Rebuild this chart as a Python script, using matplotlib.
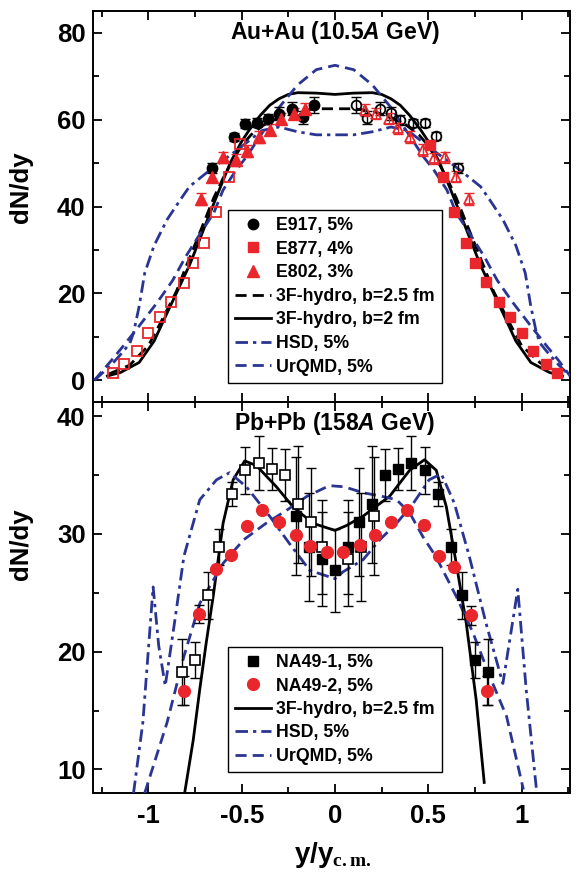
import matplotlib
matplotlib.use("Agg")
import matplotlib.pyplot as plt
from matplotlib.ticker import MultipleLocator

plt.rcParams['font.family'] = ['Liberation Sans', 'DejaVu Sans']
plt.rcParams['font.weight'] = 'bold'
plt.rcParams['mathtext.fontset'] = 'custom'
plt.rcParams['mathtext.it'] = 'Liberation Sans:bold:italic'
plt.rcParams['mathtext.rm'] = 'Liberation Serif:bold'
plt.rcParams['mathtext.bf'] = 'Liberation Sans:bold'

RED = '#e8262b'
BLUE = '#2a3593'

# ---------------- Au+Au (10.5A GeV) ----------------
e917_x = [-0.66, -0.54, -0.48, -0.42, -0.36, -0.30, -0.23, -0.17, -0.11]
e917_y = [48.8, 56.0, 59.1, 59.3, 60.2, 61.4, 62.5, 60.5, 63.3]
e917_err = [1.2, 1.0, 1.0, 1.0, 1.2, 1.5, 1.5, 1.5, 1.8]
e917r_x = [0.11, 0.17, 0.24, 0.30, 0.35, 0.42, 0.48, 0.54, 0.66]
e917r_y = [63.3, 60.4, 62.5, 61.5, 59.9, 59.2, 59.2, 56.2, 48.9]
e917r_err = [1.8, 1.5, 1.5, 1.5, 1.2, 1.0, 1.0, 1.0, 1.2]

e877_x = [0.51, 0.58, 0.64, 0.70, 0.75, 0.81, 0.88, 0.94, 1.00, 1.06, 1.13, 1.19]
e877_y = [54.2, 46.9, 38.8, 31.7, 27.0, 22.6, 18.0, 14.5, 10.8, 6.7, 3.7, 1.6]
e877l_x = [-1.19, -1.13, -1.06, -1.00, -0.94, -0.88, -0.81, -0.76, -0.70, -0.64, -0.57, -0.51]
e877l_y = [1.6, 3.7, 6.7, 10.8, 14.5, 18.0, 22.5, 27.0, 31.7, 38.8, 46.8, 54.3]

e802_x = [-0.72, -0.66, -0.60, -0.53, -0.47, -0.41, -0.35, -0.29, -0.22, -0.16]
e802_y = [41.7, 46.9, 51.3, 50.7, 52.8, 56.0, 57.7, 60.2, 61.4, 62.5]
e802r_x = [0.16, 0.22, 0.29, 0.34, 0.40, 0.47, 0.53, 0.59, 0.65, 0.72]
e802r_y = [62.2, 61.4, 60.2, 58.0, 56.0, 53.0, 51.1, 51.3, 46.9, 41.7]
e802_err = 1.3

hyd25a_x = [-1.21, -1.1, -1.0, -0.92, -0.85, -0.8, -0.72, -0.65, -0.6, -0.55, -0.5, -0.45,
            -0.38, -0.3, -0.2, -0.1, 0.0, 0.1, 0.2, 0.3, 0.38, 0.45, 0.5, 0.55, 0.6, 0.65,
            0.72, 0.8, 0.85, 0.92, 1.0, 1.1, 1.21]
hyd25a_y = [1.5, 3.5, 8.0, 14.5, 20.5, 26.0, 34.5, 42.0, 46.5, 50.5, 54.0, 56.5,
            58.8, 60.5, 62.0, 62.5, 62.5, 62.5, 62.0, 60.5, 58.8, 56.5, 54.0, 50.5, 46.5, 42.0,
            34.5, 26.0, 20.5, 14.5, 8.0, 4.0, 1.5]

hyd2a_x = [-1.22, -1.15, -1.05, -0.97, -0.9, -0.84, -0.78, -0.72, -0.67, -0.6, -0.56, -0.5,
           -0.46, -0.4, -0.35, -0.3, -0.25, -0.2, -0.1, 0.0, 0.1, 0.2, 0.25, 0.3, 0.35, 0.4,
           0.46, 0.5, 0.56, 0.6, 0.67, 0.72, 0.78, 0.84, 0.9, 0.97, 1.05, 1.15, 1.22]
hyd2a_y = [1.0, 1.8, 4.1, 9.0, 15.5, 21.0, 26.5, 33.0, 38.5, 46.0, 50.2, 55.0,
           57.6, 61.0, 63.3, 64.8, 65.8, 66.2, 66.1, 65.8, 66.1, 66.2, 65.8, 64.8, 63.3, 61.0,
           57.6, 55.0, 50.2, 46.0, 38.5, 33.0, 26.5, 21.0, 15.5, 9.0, 4.1, 1.8, 1.0]

hsda_x = [-1.29, -1.2, -1.14, -1.1, -1.08, -1.05, -1.02, -0.97, -0.9, -0.83, -0.78, -0.67,
          -0.55, -0.45, -0.39, -0.3, -0.2, -0.1, 0.0, 0.1, 0.2, 0.3, 0.39, 0.45, 0.55, 0.67,
          0.78, 0.83, 0.9, 0.97, 1.02, 1.05, 1.08, 1.1, 1.14, 1.2, 1.26]
hsda_y = [0.0, 3.5, 6.4, 8.5, 10.9, 17.0, 24.7, 31.0, 37.0, 41.5, 44.6, 48.4,
          52.2, 55.5, 57.5, 58.3, 57.2, 56.5, 56.5, 56.5, 57.2, 58.3, 57.5, 55.5, 52.2, 48.4,
          44.6, 41.5, 37.0, 31.0, 24.7, 17.0, 10.9, 8.5, 6.4, 3.5, 1.0]

urqa_x = [-1.29, -1.2, -1.135, -1.05, -0.955, -0.87, -0.8, -0.71, -0.65, -0.6, -0.53, -0.475,
          -0.42, -0.3, -0.2, -0.1, 0.0, 0.1, 0.2, 0.3, 0.42, 0.475, 0.53, 0.6, 0.65, 0.71,
          0.8, 0.87, 0.955, 1.05, 1.135, 1.2, 1.26]
urqa_y = [0.0, 4.5, 7.9, 12.5, 17.8, 23.0, 28.5, 34.6, 38.5, 43.8, 48.4, 51.4,
          55.0, 62.8, 68.0, 71.5, 72.5, 71.5, 68.0, 62.8, 55.0, 51.4, 48.4, 43.8, 38.5, 34.6,
          28.5, 23.0, 17.8, 12.5, 7.9, 4.5, 1.0]

# ---------------- Pb+Pb (158A GeV) ----------------
na1_x = [-0.21, -0.14, -0.07, 0.0, 0.07, 0.13, 0.20, 0.27, 0.34, 0.41, 0.48, 0.55, 0.62, 0.68, 0.75, 0.82]
na1_y = [31.5, 28.9, 27.9, 26.9, 28.9, 31.0, 32.5, 35.0, 35.5, 36.0, 35.4, 33.4, 28.9, 24.8, 19.3, 18.3]
na1_err = [5.0, 4.6, 4.0, 3.5, 4.0, 4.6, 5.0, 2.2, 1.8, 2.3, 2.0, 1.0, 1.5, 2.0, 1.5, 2.8]
na1o_x = [-0.82, -0.75, -0.68, -0.62, -0.55, -0.48, -0.41, -0.34, -0.27, -0.20, -0.13, -0.07, 0.07, 0.14, 0.21]
na1o_y = [18.3, 19.3, 24.8, 28.9, 33.4, 35.4, 36.0, 35.5, 35.0, 32.5, 31.0, 28.9, 27.9, 28.9, 31.5]
na1o_err = [2.8, 1.5, 2.0, 1.5, 1.0, 2.0, 2.3, 1.8, 2.2, 5.0, 4.6, 4.0, 4.0, 4.6, 5.0]

na2_x = [-0.81, -0.73, -0.64, -0.555, -0.47, -0.39, -0.30, -0.21, -0.135, -0.045,
         0.045, 0.135, 0.215, 0.30, 0.385, 0.475, 0.555, 0.64, 0.73, 0.815]
na2_y = [16.7, 23.2, 27.0, 28.2, 30.7, 32.0, 31.0, 29.9, 29.0, 28.5,
         28.5, 29.1, 29.9, 31.0, 32.0, 30.8, 28.1, 27.2, 23.1, 16.7]
na2_err = [1.2, 0.8, 0, 0, 0, 0, 0, 0, 0, 0, 0, 0, 0, 0, 0, 0, 0, 0, 0.8, 1.2]

hydb_x = [-0.806, -0.76, -0.725, -0.69, -0.653, -0.6, -0.546, -0.484, -0.421, -0.314, -0.225,
          -0.118, 0.0, 0.06, 0.15, 0.293, 0.4, 0.48, 0.543, 0.597, 0.65, 0.704, 0.757, 0.8]
hydb_y = [8.0, 12.5, 16.8, 20.8, 24.7, 30.9, 34.6, 36.2, 35.8, 34.0, 32.3,
          30.9, 30.3, 30.7, 31.5, 33.2, 35.4, 36.3, 35.4, 32.3, 27.5, 22.4, 15.9, 8.9]

hsdb_x = [-1.08, -1.03, -0.975, -0.945, -0.91, -0.86, -0.81, -0.725, -0.635, -0.565, -0.475,
          -0.35, -0.245, -0.135, 0.0, 0.045, 0.15, 0.24, 0.33, 0.42, 0.505, 0.57, 0.64, 0.72,
          0.81, 0.9, 0.98, 1.025, 1.08]
hsdb_y = [8.0, 14.0, 25.5, 20.5, 17.1, 22.5, 28.1, 32.9, 34.6, 35.2, 34.0,
          31.5, 29.2, 26.9, 26.2, 26.8, 27.8, 29.5, 30.9, 32.6, 34.6, 35.1, 32.6, 28.1,
          22.4, 17.3, 25.3, 16.8, 8.3]

urqb_x = [-1.02, -0.9, -0.81, -0.725, -0.6, -0.49, -0.37, -0.26, -0.15, -0.03, 0.05, 0.15,
          0.25, 0.33, 0.4, 0.47, 0.54, 0.65, 0.74, 0.83, 0.92, 1.01]
urqb_y = [8.0, 14.0, 19.6, 24.1, 27.5, 29.5, 30.9, 32.0, 33.2, 34.1, 34.0, 33.5,
          33.2, 32.9, 31.8, 29.8, 28.1, 24.7, 21.6, 17.9, 14.5, 8.3]

fig = plt.figure(figsize=(5.76, 8.73), dpi=100)
ax1 = fig.add_axes([0.1606, 0.5395, 0.8290, 0.4479])
ax2 = fig.add_axes([0.1606, 0.0916, 0.8290, 0.4479])

LW = 2.0
DASH = (0, (4.0, 2.2))
DASHDOT = (0, (4.5, 1.8, 1.2, 1.8))
XMIN, XMAX = -1.3, 1.26
XC = (0 - XMIN) / (XMAX - XMIN)

def style_axes(ax, ylim, ymaj, ymin_):
    ax.set_xlim(XMIN, XMAX)
    ax.set_ylim(*ylim)
    ax.xaxis.set_major_locator(MultipleLocator(0.5))
    ax.xaxis.set_minor_locator(MultipleLocator(0.25))
    ax.yaxis.set_major_locator(MultipleLocator(ymaj))
    ax.yaxis.set_minor_locator(MultipleLocator(ymin_))
    ax.tick_params(which='both', direction='in', top=True, right=True, width=1.3)
    ax.tick_params(which='major', length=6.5)
    ax.tick_params(which='minor', length=4)
    ax.tick_params(axis='y', labelsize=18.5, pad=5)
    ax.tick_params(axis='x', labelsize=18.5, pad=8)
    for s in ax.spines.values():
        s.set_linewidth(1.4)
    for lab in ax.get_xticklabels() + ax.get_yticklabels():
        lab.set_fontweight('bold')

LEGPROP = {'weight': 'bold', 'size': 12.8}

# ---- top panel ----
ax = ax1
ax.plot(hyd25a_x, hyd25a_y, color='black', lw=LW, ls=DASH, label='3F-hydro, b=2.5 fm', zorder=3)
ax.plot(hyd2a_x, hyd2a_y, color='black', lw=LW, ls='-', label='3F-hydro, b=2 fm', zorder=3)
ax.plot(hsda_x, hsda_y, color=BLUE, lw=LW, ls=DASHDOT, label='HSD, 5%', zorder=3)
ax.plot(urqa_x, urqa_y, color=BLUE, lw=LW, ls=DASH, label='UrQMD, 5%', zorder=3)

ax.errorbar(e917_x, e917_y, yerr=e917_err, fmt='none', ecolor='black', elinewidth=1.0, capsize=3.5, capthick=1.0, zorder=4)
ax.errorbar(e917r_x, e917r_y, yerr=e917r_err, fmt='none', ecolor='black', elinewidth=1.0, capsize=3.5, capthick=1.0, zorder=4)
ax.errorbar(e802_x, e802_y, yerr=e802_err, fmt='none', ecolor=RED, elinewidth=1.0, capsize=3.5, capthick=1.0, zorder=4)
ax.errorbar(e802r_x, e802r_y, yerr=e802_err, fmt='none', ecolor=RED, elinewidth=1.0, capsize=3.5, capthick=1.0, zorder=4)

ax.plot(e917_x, e917_y, 'o', color='black', ms=7.5, ls='none', label='E917, 5%', zorder=5)
ax.plot(e917r_x, e917r_y, 'o', mfc='none', mec='black', mew=1.3, ms=7, ls='none', zorder=5)
ax.plot(e877_x, e877_y, 's', color=RED, ms=7.5, ls='none', label='E877, 4%', zorder=5)
ax.plot(e877l_x, e877l_y, 's', mfc='none', mec=RED, mew=1.3, ms=7.5, ls='none', zorder=5)
ax.plot(e802_x, e802_y, '^', color=RED, ms=8.5, ls='none', label='E802, 3%', zorder=5)
ax.plot(e802r_x, e802r_y, '^', mfc='none', mec=RED, mew=1.3, ms=7.5, ls='none', zorder=5)

style_axes(ax, (-5, 85), 20, 10)
ax.tick_params(axis='x', labelbottom=False)
ax.text(XC, 0.945, r'Au+Au (10.5$\mathit{A}$ GeV)', transform=ax.transAxes,
        ha='center', va='center', fontsize=16.5, fontweight='bold')
ax.set_ylabel('dN/dy', fontsize=18.5, fontweight='bold')
ax.yaxis.set_label_coords(-0.125, 0.55)

handles, labels = ax.get_legend_handles_labels()
order = ['E917, 5%', 'E877, 4%', 'E802, 3%', '3F-hydro, b=2.5 fm', '3F-hydro, b=2 fm', 'HSD, 5%', 'UrQMD, 5%']
hmap = dict(zip(labels, handles))
leg = ax.legend([hmap[k] for k in order], order, loc='upper left', bbox_to_anchor=(0.284, 0.491),
                borderaxespad=0, frameon=True, fancybox=False, edgecolor='black', framealpha=1,
                prop=LEGPROP, handlelength=2.0, handletextpad=0.3,
                labelspacing=0.37, borderpad=0.4)
leg.get_frame().set_linewidth(1.0)

# ---- bottom panel ----
ax = ax2
ax.plot(hydb_x, hydb_y, color='black', lw=LW, ls='-', label='3F-hydro, b=2.5 fm', zorder=3)
ax.plot(hsdb_x, hsdb_y, color=BLUE, lw=LW, ls=DASHDOT, label='HSD, 5%', zorder=3)
ax.plot(urqb_x, urqb_y, color=BLUE, lw=LW, ls=DASH, label='UrQMD, 5%', zorder=3)

ax.errorbar(na1_x, na1_y, yerr=na1_err, fmt='none', ecolor='black', elinewidth=1.0, capsize=3.5, capthick=1.0, zorder=4)
ax.errorbar(na1o_x, na1o_y, yerr=na1o_err, fmt='none', ecolor='black', elinewidth=1.0, capsize=3.5, capthick=1.0, zorder=4)
ax.errorbar(na2_x, na2_y, yerr=na2_err, fmt='none', ecolor='black', elinewidth=1.0, capsize=3.5, capthick=1.0, zorder=4)

ax.plot(na1_x, na1_y, 's', color='black', ms=7.5, ls='none', label='NA49-1, 5%', zorder=5)
ax.plot(na1o_x, na1o_y, 's', mfc='white', mec='black', mew=1.2, ms=7, ls='none', zorder=5)
ax.plot(na2_x, na2_y, 'o', color=RED, ms=8.5, ls='none', label='NA49-2, 5%', zorder=5)

style_axes(ax, (8, 41.2), 10, 5)
ax.text(XC, 0.945, r'Pb+Pb (158$\mathit{A}$ GeV)', transform=ax.transAxes,
        ha='center', va='center', fontsize=16.5, fontweight='bold')
ax.set_ylabel('dN/dy', fontsize=18.5, fontweight='bold')
ax.yaxis.set_label_coords(-0.125, 0.637)
ax.set_xlabel(r'y/y$_{\mathrm{c.m.}}$', fontsize=20, fontweight='bold')
ax.xaxis.set_label_coords(0.504, -0.12)
ax.set_xticks([-1, -0.5, 0, 0.5, 1])
ax.set_xticklabels(['-1', '-0.5', '0', '0.5', '1'], fontweight='bold')

handles, labels = ax.get_legend_handles_labels()
order = ['NA49-1, 5%', 'NA49-2, 5%', '3F-hydro, b=2.5 fm', 'HSD, 5%', 'UrQMD, 5%']
hmap = dict(zip(labels, handles))
leg = ax.legend([hmap[k] for k in order], order, loc='upper left', bbox_to_anchor=(0.284, 0.373),
                borderaxespad=0, frameon=True, fancybox=False, edgecolor='black', framealpha=1,
                prop=LEGPROP, handlelength=2.0, handletextpad=0.3,
                labelspacing=0.36, borderpad=0.4)
leg.get_frame().set_linewidth(1.0)

fig.savefig('out.png', dpi=100)
